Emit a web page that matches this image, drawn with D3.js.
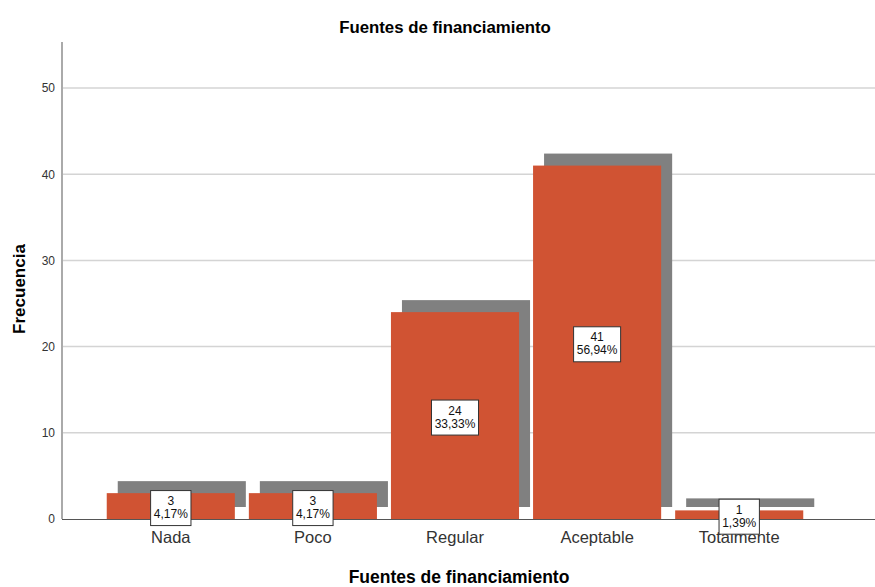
<!DOCTYPE html>
<html>
<head>
<meta charset="utf-8">
<script src="https://cdn.jsdelivr.net/npm/d3@7/dist/d3.min.js"></script>
<style>
  body { margin: 0; background: #fff; }
  svg { display: block; font-family: "Liberation Sans", Arial, sans-serif; }
</style>
</head>
<body>
<svg id="chart" width="875" height="587"></svg>
<script>
// data
var categories = ["Nada", "Poco", "Regular", "Aceptable", "Totalmente"];
var counts = [3, 3, 24, 41, 1];
var percents = ["4,17%", "4,17%", "33,33%", "56,94%", "1,39%"];
var yTicks = [0, 10, 20, 30, 40, 50];

var plotLeft = 62, plotRight = 875, plotTop = 42, plotBottom = 519;

var svg = d3.select("#chart");

var x = d3.scaleBand()
  .domain(categories)
  .range([57, 853])
  .paddingInner(14 / 142)
  .paddingOuter(0.35);

var y = d3.scaleLinear()
  .domain([0, 50])
  .range([plotBottom, 88]);

// gridlines
svg.append("g")
  .selectAll("line")
  .data(yTicks.filter(function(d) { return d > 0; }))
  .enter().append("line")
  .attr("x1", plotLeft).attr("x2", plotRight)
  .attr("y1", function(d) { return y(d); })
  .attr("y2", function(d) { return y(d); })
  .attr("stroke", "#d4d4d4")
  .attr("stroke-width", 1.5);

// shadows
var dx = 11, dy = -12;
svg.append("g")
  .selectAll("rect")
  .data(counts)
  .enter().append("rect")
  .attr("x", function(d, i) { return x(categories[i]) + dx; })
  .attr("y", function(d) { return y(d) + dy; })
  .attr("width", x.bandwidth())
  .attr("height", function(d) { return y(0) - y(d); })
  .attr("fill", "#808080");

// bars
svg.append("g")
  .selectAll("rect")
  .data(counts)
  .enter().append("rect")
  .attr("x", function(d, i) { return x(categories[i]); })
  .attr("y", function(d) { return y(d); })
  .attr("width", x.bandwidth())
  .attr("height", function(d) { return y(0) - y(d); })
  .attr("fill", "#d05333");

// y axis
var yAxis = svg.append("g")
  .attr("transform", "translate(" + plotLeft + ",0)")
  .call(d3.axisLeft(y).tickValues(yTicks).tickSize(0).tickPadding(7));
yAxis.select(".domain").remove();
yAxis.selectAll("text")
  .attr("font-size", 12)
  .attr("font-family", "Liberation Sans, Arial, sans-serif")
  .attr("fill", "#333");

svg.append("line")
  .attr("x1", plotLeft).attr("x2", plotLeft)
  .attr("y1", plotTop).attr("y2", plotBottom)
  .attr("stroke", "#aaa")
  .attr("stroke-width", 2);

// baseline
svg.append("line")
  .attr("x1", plotLeft).attr("x2", plotRight)
  .attr("y1", plotBottom + 0.5).attr("y2", plotBottom + 0.5)
  .attr("stroke", "#555")
  .attr("stroke-width", 1);

// x axis labels
var xAxis = svg.append("g")
  .attr("transform", "translate(0," + plotBottom + ")")
  .call(d3.axisBottom(x).tickSize(0).tickPadding(12));
xAxis.select(".domain").remove();
xAxis.selectAll("text")
  .attr("font-size", 16.5)
  .attr("font-family", "Liberation Sans, Arial, sans-serif")
  .attr("fill", "#333");

// value labels
var labels = svg.append("g")
  .selectAll("g")
  .data(counts)
  .enter().append("g")
  .attr("transform", function(d, i) {
    var cx = x(categories[i]) + x.bandwidth() / 2;
    var cy = (y(d) + y(0)) / 2 + 2;
    return "translate(" + cx + "," + cy + ")";
  });

labels.each(function(d, i) {
  var g = d3.select(this);
  var rect = g.append("rect");
  var t = g.append("text")
    .attr("text-anchor", "middle")
    .attr("font-size", 12)
    .attr("fill", "#111");
  t.append("tspan").attr("x", 0).attr("y", -3).text(d);
  t.append("tspan").attr("x", 0).attr("y", 10).text(percents[i]);
  var w = t.node().getBBox().width + 6;
  rect.attr("x", -w / 2).attr("y", -17.5)
    .attr("width", w).attr("height", 35)
    .attr("fill", "#fff")
    .attr("stroke", "#333")
    .attr("stroke-width", 1);
});

// titles
svg.append("text")
  .attr("x", 445).attr("y", 33)
  .attr("text-anchor", "middle")
  .attr("font-size", 16.8).attr("font-weight", "bold")
  .text("Fuentes de financiamiento");

svg.append("text")
  .attr("x", 459).attr("y", 583)
  .attr("text-anchor", "middle")
  .attr("font-size", 17.5).attr("font-weight", "bold")
  .text("Fuentes de financiamiento");

svg.append("text")
  .attr("transform", "translate(25,289) rotate(-90)")
  .attr("text-anchor", "middle")
  .attr("font-size", 17).attr("font-weight", "bold")
  .text("Frecuencia");
</script>
</body>
</html>
